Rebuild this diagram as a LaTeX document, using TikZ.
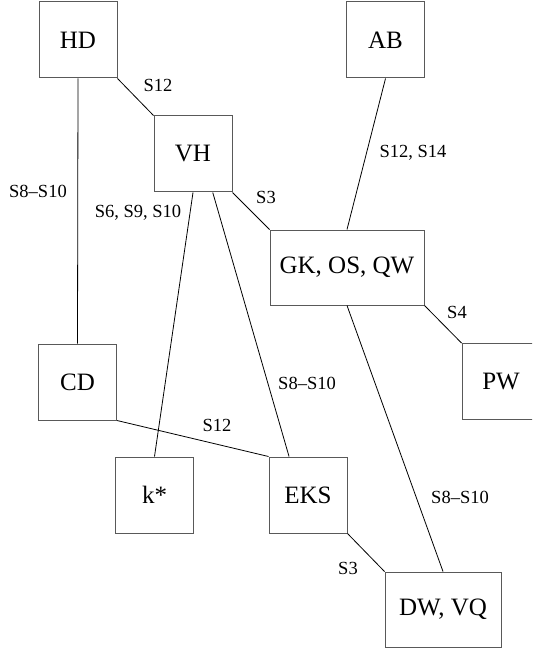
\documentclass[tikz,border=0pt]{standalone}
\usepackage{fontspec}
\setmainfont{Liberation Serif}
\usetikzlibrary{positioning, calc}

\begin{document}
\begin{tikzpicture}[x=1pt, y=-1pt,
        box/.style={draw=black!65, line width=1pt, rectangle, inner sep=0pt,
            minimum width=78pt, minimum height=76pt, font=\fontsize{25}{28}\selectfont},
        lbl/.style={inner sep=0pt, font=\fontsize{18.5}{20}\selectfont},
        link/.style={line width=0.8pt}]
        \clip (0,0) rectangle (532,652);
        \useasboundingbox (0,0) rectangle (532,652);
        \node[box] (HD) at (78,40) {HD};
        \node[box] (AB) at (385.5,40) {AB};
        \node[box] (VH) at (193,154) {VH};
        \node[box, minimum width=154pt, minimum height=75pt] (GK) at (347,267.5) {GK, OS, QW};
        \node[box] (CD) at (77.5,382) {CD};
        \node[box] (PW) at (501,381.5) {PW};
        \node[box] (K) at (154.5,495) {k*};
        \node[box] (EKS) at (308,495) {EKS};
        \node[box, minimum width=116pt, minimum height=75pt] (DW) at (443,609.5) {DW, VQ};

        \node[lbl] at (158,85) {S12};
        \node[lbl] at (38,191.5) {S8--S10};
        \node[lbl] at (413,153) {S12, S14};
        \node[lbl] at (138,213) {S6, S9, S10};
        \node[lbl] at (266,197) {S3};
        \node[lbl] at (457,312) {S4};
        \node[lbl] at (307,383) {S8--S10};
        \node[lbl] at (217,425) {S12};
        \node[lbl] at (460,497) {S8--S10};
        \node[lbl] at (348,568) {S3};

        \path[link] (HD.south east) edge (VH.north west);
        \path[link] (HD.south) edge (CD.north);
        \path[link] (AB.south) edge (GK.north);
        \path[link] (VH.south east) edge (GK.north west);
        \path[link] (VH.south) edge (K.north);
        \path[link] ($(VH.south west)!0.75!(VH.south east)$) edge ($(EKS.north west)!0.26!(EKS.north east)$);
        \path[link] (CD.south east) edge (EKS.north west);
        \path[link] (GK.south east) edge (PW.north west);
        \path[link] (GK.south) edge (DW.north);
        \path[link] (EKS.south east) edge (DW.north west);
    \end{tikzpicture}
\end{document}
